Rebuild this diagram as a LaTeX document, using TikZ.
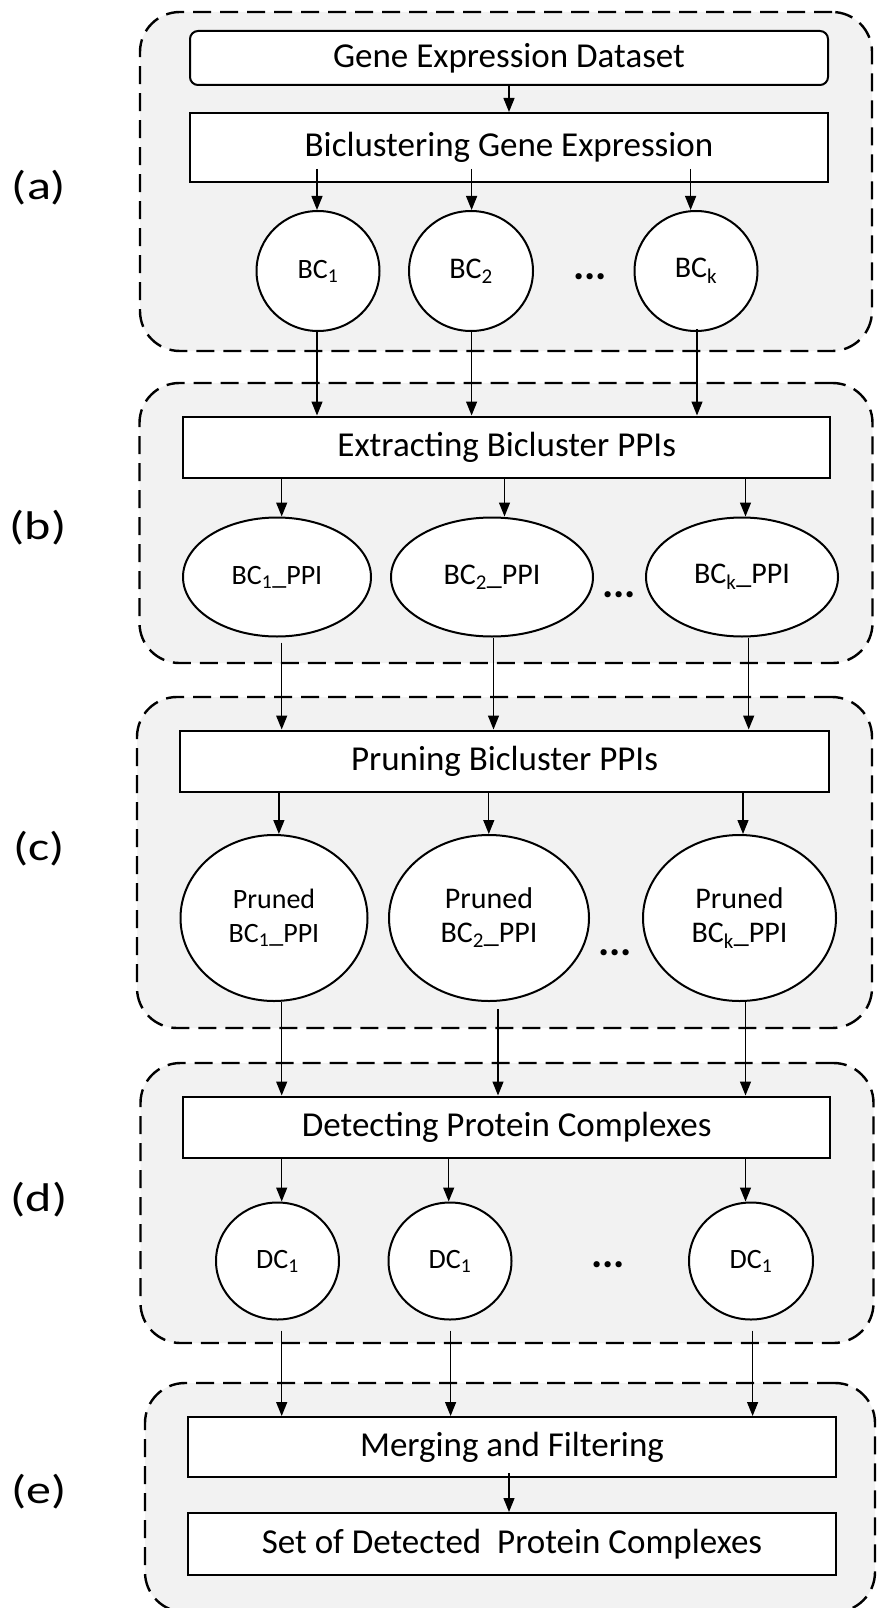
\documentclass[tikz,border=0pt]{standalone}
\usepackage{fontspec}
\setmainfont{Carlito}
\newfontfamily\mylabfam{Carlito}[FakeStretch=1.25]
\usetikzlibrary{arrows.meta,shapes.geometric,calc}
\definecolor{grayfill}{HTML}{F2F2F2}
\newcommand\myboxfont{\fontsize{35}{40}\selectfont}
\newcommand\myellfont{\fontsize{30}{34}\selectfont}
\newcommand\myellfontl{\fontsize{28}{34}\selectfont}
\newcommand\mylabfont{\mylabfam\fontsize{40}{48}\selectfont}
\newcommand\mydotsfont{\fontsize{42}{46}\selectfont\bfseries}
\tikzset{
 grp/.style={draw, dash pattern=on 18pt off 9pt, line width=2.4pt, fill=grayfill, rounded corners=40pt, inner sep=0pt},
 box/.style={draw, line width=2pt, fill=white, inner sep=0pt, font=\myboxfont},
 ell/.style={draw, ellipse, line width=2pt, fill=white, inner sep=0pt, align=center, font=\myellfont},
 elll/.style={ell, font=\myellfontl},
 arr/.style={line width=1.3pt, -{Triangle[length=14pt,width=11pt]}},
 lab/.style={font=\mylabfont},
 dotsn/.style={font=\mydotsfont, inner sep=0pt},
}
\begin{document}
\begin{tikzpicture}[x=1pt,y=-1pt]
\useasboundingbox (0,0) rectangle (878,1608);
% groups
\node[grp, minimum width=732pt, minimum height=339pt] (ga) at (506,181.5) {};
\node[grp, minimum width=733pt, minimum height=280pt] (gb) at (506,523) {};
\node[grp, minimum width=735pt, minimum height=331pt] (gc) at (504.5,862.5) {};
\node[grp, minimum width=733pt, minimum height=280pt] (gd) at (507,1203) {};
\node[grp, minimum width=730pt, minimum height=229pt] (ge) at (510,1497.5) {};
% labels
\node[lab] (la) at (39,188) {(a)};
\node[lab] (lb) at (38,528) {(b)};
\node[lab] (lc) at (39,849) {(c)};
\node[lab] (ld) at (39,1200) {(d)};
\node[lab] (le) at (39,1492) {(e)};
% (a)
\node[box, rounded corners=8pt, minimum width=638pt, minimum height=54pt] (ged) at (509,58) {Gene Expression Dataset};
\node[box, minimum width=638pt, minimum height=69pt] (bic) at (509,147.5) {Biclustering Gene Expression};
\node[elll, minimum width=123pt, minimum height=120pt] (bc1) at (318,271) {BC\textsubscript{1}};
\node[ell, minimum width=124pt, minimum height=120pt] (bc2) at (471,271) {BC\textsubscript{2}};
\node[ell, minimum width=123pt, minimum height=120pt] (bck) at (696,271) {BC\textsubscript{k}};
\node[dotsn] (d1) at (590,277) {...};
% (b)
\node[box, minimum width=647pt, minimum height=61pt] (ext) at (506.7,447) {Extracting Bicluster PPIs};
\node[elll, minimum width=188pt, minimum height=119pt] (ppi1) at (277,577) {BC\textsubscript{1}\_PPI};
\node[ell, minimum width=202pt, minimum height=119pt] (ppi2) at (492,577) {BC\textsubscript{2}\_PPI};
\node[ell, minimum width=192pt, minimum height=119pt] (ppik) at (742,577) {BC\textsubscript{k}\_PPI};
\node[dotsn] (d2) at (619,595) {...};
% (c)
\node[box, minimum width=649pt, minimum height=61pt] (prn) at (504.5,761) {Pruning Bicluster PPIs};
\node[elll, minimum width=187pt, minimum height=166pt] (pbc1) at (274,918) {Pruned\\BC\textsubscript{1}\_PPI};
\node[ell, minimum width=200pt, minimum height=166pt] (pbc2) at (489,918) {Pruned\\BC\textsubscript{2}\_PPI};
\node[ell, minimum width=193pt, minimum height=166pt] (pbck) at (739.5,918) {Pruned\\BC\textsubscript{k}\_PPI};
\node[dotsn] (d3) at (615,953) {...};
% (d)
\node[box, minimum width=647pt, minimum height=61pt] (det) at (506.7,1127) {Detecting Protein Complexes};
\node[elll, minimum width=123pt, minimum height=117pt] (dc1) at (277.5,1261) {DC\textsubscript{1}};
\node[elll, minimum width=123pt, minimum height=117pt] (dc2) at (450,1261) {DC\textsubscript{1}};
\node[elll, minimum width=124pt, minimum height=117pt] (dc3) at (751,1261) {DC\textsubscript{1}};
\node[dotsn] (d4) at (608,1265) {...};
% (e)
\node[box, minimum width=648pt, minimum height=60pt] (mrg) at (512,1447) {Merging and Filtering};
\node[box, minimum width=648pt, minimum height=62pt] (set) at (512,1544) {Set of Detected\ \ Protein Complexes};
% arrows (a)
\draw[arr] (ged.south -| 509,0) -- (bic.north -| 509,0);
\draw[arr] ($(bic.south -| 317,0)+(0,-14)$) -- (bc1.north -| 317,0);
\draw[arr] ($(bic.south -| 471.6,0)+(0,-14)$) -- (bc2.north -| 471.6,0);
\draw[arr] ($(bic.south -| 690.6,0)+(0,-14)$) -- (bck.north -| 690.6,0);
% a -> b
\draw[arr] (bc1.south -| 317,0) -- (ext.north -| 317,0);
\draw[arr] (bc2.south -| 471.6,0) -- (ext.north -| 471.6,0);
\draw[arr] ($(bck.south -| 697,0)+(0,-3)$) -- (ext.north -| 697,0);
% (b)
\draw[arr] (ext.south -| 281.7,0) -- (ppi1.north -| 281.7,0);
\draw[arr] (ext.south -| 504.5,0) -- (ppi2.north -| 504.5,0);
\draw[arr] (ext.south -| 745.5,0) -- (ppik.north -| 745.5,0);
% b -> c
\draw[arr] ($(ppi1.south -| 281.7,0)+(0,5)$) -- (prn.north -| 281.7,0);
\draw[arr] (ppi2.south -| 493.5,0) -- (prn.north -| 493.5,0);
\draw[arr] (ppik.south -| 748.7,0) -- (prn.north -| 748.7,0);
% (c)
\draw[arr] (prn.south -| 278.9,0) -- (pbc1.north -| 278.9,0);
\draw[arr] (prn.south -| 488.8,0) -- (pbc2.north -| 488.8,0);
\draw[arr] (prn.south -| 743,0) -- (pbck.north -| 743,0);
% c -> d
\draw[arr] (pbc1.south -| 281.7,0) -- (det.north -| 281.7,0);
\draw[arr] ($(pbc2.south -| 498,0)+(0,7)$) -- (det.north -| 498,0);
\draw[arr] (pbck.south -| 745.5,0) -- (det.north -| 745.5,0);
% (d)
\draw[arr] (det.south -| 281.7,0) -- (dc1.north -| 281.7,0);
\draw[arr] (det.south -| 448.7,0) -- (dc2.north -| 448.7,0);
\draw[arr] (det.south -| 745.5,0) -- (dc3.north -| 745.5,0);
% d -> e
\draw[arr] ($(dc1.south -| 281.7,0)+(0,10)$) -- (mrg.north -| 281.7,0);
\draw[arr] ($(dc2.south -| 450.6,0)+(0,10)$) -- (mrg.north -| 450.6,0);
\draw[arr] ($(dc3.south -| 752.6,0)+(0,10)$) -- (mrg.north -| 752.6,0);
% (e)
\draw[arr] ($(mrg.south -| 509,0)+(0,-5)$) -- (set.north -| 509,0);
\end{tikzpicture}
\end{document}
